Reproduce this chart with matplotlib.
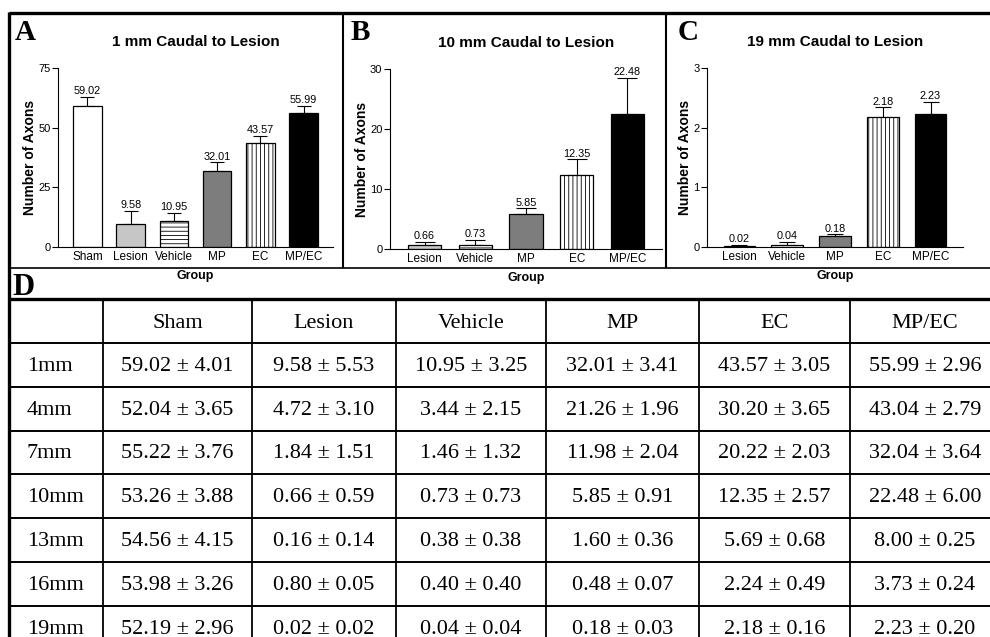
import matplotlib
matplotlib.use('Agg')
import matplotlib.pyplot as plt
import numpy as np

plt.rcParams['hatch.linewidth'] = 0.6

# ---------------- data ----------------
groups = ['Sham', 'Lesion', 'Vehicle', 'MP', 'EC', 'MP/EC']
distances = ['1mm', '4mm', '7mm', '10mm', '13mm', '16mm', '19mm']

sham_mean = [59.02, 52.04, 55.22, 53.26, 54.56, 53.98, 52.19]
sham_sem = [4.01, 3.65, 3.76, 3.88, 4.15, 3.26, 2.96]
lesion_mean = [9.58, 4.72, 1.84, 0.66, 0.16, 0.80, 0.02]
lesion_sem = [5.53, 3.10, 1.51, 0.59, 0.14, 0.05, 0.02]
vehicle_mean = [10.95, 3.44, 1.46, 0.73, 0.38, 0.40, 0.04]
vehicle_sem = [3.25, 2.15, 1.32, 0.73, 0.38, 0.40, 0.04]
mp_mean = [32.01, 21.26, 11.98, 5.85, 1.60, 0.48, 0.18]
mp_sem = [3.41, 1.96, 2.04, 0.91, 0.36, 0.07, 0.03]
ec_mean = [43.57, 30.20, 20.22, 12.35, 5.69, 2.24, 2.18]
ec_sem = [3.05, 3.65, 2.03, 2.57, 0.68, 0.49, 0.16]
mpec_mean = [55.99, 43.04, 32.04, 22.48, 8.00, 3.73, 2.23]
mpec_sem = [2.96, 2.79, 3.64, 6.00, 0.25, 0.24, 0.20]

means = dict(zip(groups, [sham_mean, lesion_mean, vehicle_mean, mp_mean, ec_mean, mpec_mean]))
sems = dict(zip(groups, [sham_sem, lesion_sem, vehicle_sem, mp_sem, ec_sem, mpec_sem]))

fills = {'Sham': 'white', 'Lesion': '#c6c6c6', 'Vehicle': 'white',
         'MP': '#7d7d7d', 'EC': 'white', 'MP/EC': 'black'}
hatches = {'Vehicle': '----', 'EC': '||||'}

SANS = 'Liberation Sans'
SERIF = 'Liberation Serif'

# ---------------- figure ----------------
W, H = 990, 637
fig = plt.figure(figsize=(W / 100, H / 100), dpi=100)
ov = fig.add_axes([0, 0, 1, 1])
ov.set_xlim(0, W)
ov.set_ylim(H, 0)
ov.axis('off')
ov.set_zorder(0)


def px_axes(l, r, t, b):
    return fig.add_axes([l / W, 1 - b / H, (r - l) / W, (b - t) / H])


panels = [
    dict(letter='A', title='1 mm Caudal to Lesion', dist=0, groups=groups,
         ymax=75, yticks=[0, 25, 50, 75], box=(58, 333, 68, 247), lx=15, cap=5),
    dict(letter='B', title='10 mm Caudal to Lesion', dist=3, groups=groups[1:],
         ymax=30, yticks=[0, 10, 20, 30], box=(390, 662, 69, 249), lx=351, cap=7),
    dict(letter='C', title='19 mm Caudal to Lesion', dist=6, groups=groups[1:],
         ymax=3, yticks=[0, 1, 2, 3], box=(707, 963, 68, 247), lx=678, cap=6),
]

for p in panels:
    ax = px_axes(*p['box'])
    ax.set_zorder(2)
    ax.patch.set_alpha(0)
    g = p['groups']
    n = len(g)
    x = np.arange(n)
    vals = np.array([means[k][p['dist']] for k in g])
    errs = np.array([sems[k][p['dist']] for k in g])
    ax.bar(x, vals, width=0.66, color=[fills[k] for k in g], edgecolor='black',
           linewidth=0.9, hatch=[hatches.get(k, '') for k in g], zorder=2)
    ax.errorbar(x, vals, yerr=[np.zeros(n), errs], fmt='none', ecolor='black',
                elinewidth=0.8, capsize=p['cap'], capthick=0.8, zorder=1)
    for xi, v, e in zip(x, vals, errs):
        ax.annotate(f'{v:.2f}', (xi, v + e), xytext=(0, 0.6), textcoords='offset points',
                    ha='center', va='bottom', fontsize=7.8, family=SANS)
    ax.set_xlim(-0.68, n - 1 + 0.68)
    ax.set_ylim(0, p['ymax'])
    ax.set_yticks(p['yticks'])
    ax.set_xticks(x)
    ax.set_xticklabels(g, family=SANS)
    for lab in ax.get_yticklabels():
        lab.set_family(SANS)
    ax.tick_params(axis='y', direction='out', length=4, width=0.8, labelsize=8, pad=1.5)
    ax.tick_params(axis='x', length=0, labelsize=8.5, pad=3)
    for s in ['top', 'right']:
        ax.spines[s].set_visible(False)
    for s in ['left', 'bottom']:
        ax.spines[s].set_linewidth(0.8)
    ax.set_title(p['title'], fontsize=11, fontweight='bold', family=SANS, pad=16)
    ax.set_ylabel('Number of Axons', fontsize=10, fontweight='bold', family=SANS, labelpad=1)
    ax.set_xlabel('Group', fontsize=9, fontweight='bold', family=SANS, labelpad=5)
    ov.text(p['lx'], 40, p['letter'], fontsize=21, fontweight='bold', family=SERIF,
            ha='left', va='baseline')

# ---------------- frame ----------------
ov.hlines(13, 9, W, color='black', lw=2.4, clip_on=False)
ov.vlines(9, 12, H, color='black', lw=2.4, clip_on=False)
ov.vlines([343, 666], 13, 268, color='black', lw=1.5)
ov.hlines(268, 9, W, color='black', lw=1.2)
ov.hlines(299, 9, W, color='black', lw=2.4)
ov.text(12, 295, 'D', fontsize=22, fontweight='bold', family=SERIF, ha='left', va='baseline')

# ---------------- table ----------------
col_edges = [103, 252, 396, 546, 699, 850, 1000]
row_top = 299
row_h = 43.8
header_h = 44
ov.vlines(col_edges[:-1], row_top, H, color='black', lw=1.3)
ov.hlines([row_top + header_h + i * row_h for i in range(len(distances))], 9, W,
          color='black', lw=1.4)

centers = [(a + b) / 2 for a, b in zip(col_edges[:-1], col_edges[1:])]
for c, gname in zip(centers, groups):
    ov.text(c, row_top + header_h / 2 + 7, gname, fontsize=16, family=SERIF,
            ha='center', va='baseline')
for i, d in enumerate(distances):
    yb = row_top + header_h + i * row_h + row_h / 2 + 6
    ov.text(27, yb, d, fontsize=16, family=SERIF, ha='left', va='baseline')
    for c, gname in zip(centers, groups):
        ov.text(c, yb, f'{means[gname][i]:.2f} \u00b1 {sems[gname][i]:.2f}',
                fontsize=16, family=SERIF, ha='center', va='baseline')

fig.savefig('out.png', dpi=100)
